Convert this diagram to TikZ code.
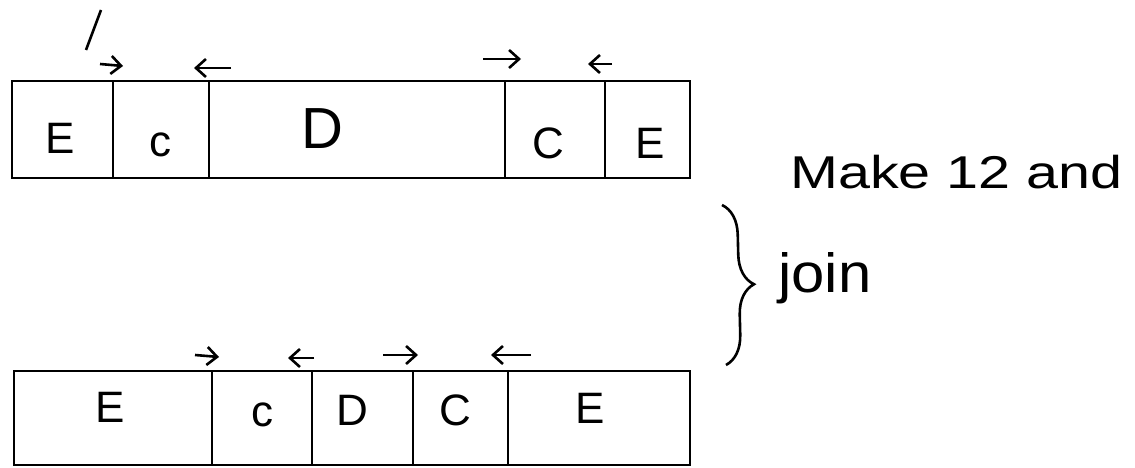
\documentclass[tikz,border=0pt]{standalone}
\usepackage{fontspec}
\setmainfont{Liberation Sans}
\usetikzlibrary{arrows.meta,decorations.pathreplacing}
\begin{document}
\begin{tikzpicture}[x=1pt,y=-1pt,
  cellbox/.style={draw, line width=2.8pt, inner sep=0pt, outer sep=0pt},
  lbl/.style={inner sep=0pt, font=\fontsize{44}{50}\selectfont},
  arrowmark/.style={line width=2.6pt, -{Straight Barb[length=10pt,width=18pt]}},
  hand/.style={inner sep=0pt, anchor=base west, font=\fontsize{46}{52}\selectfont}]
\useasboundingbox (0,0) rectangle (1135,468);
% top strip
\node[cellbox, minimum width=101pt, minimum height=97pt] (t1) at (62.5,129.5) {};
\node[cellbox, minimum width=96pt, minimum height=97pt] (t2) at (161,129.5) {};
\node[cellbox, minimum width=296pt, minimum height=97pt] (t3) at (357,129.5) {};
\node[cellbox, minimum width=100pt, minimum height=97pt] (t4) at (555,129.5) {};
\node[cellbox, minimum width=85pt, minimum height=97pt] (t5) at (647.5,129.5) {};
\node[lbl] (lt1) at (60,138) {E};
\node[lbl] (lt2) at (160,145) {c};
\node[lbl, font=\fontsize{58}{60}\selectfont] (lt3) at (322,129) {D};
\node[lbl] (lt4) at (548,143) {C};
\node[lbl] (lt5) at (650,143) {E};
% bottom strip
\node[cellbox, minimum width=198pt, minimum height=94pt] (b1) at (113,418) {};
\node[cellbox, minimum width=100pt, minimum height=94pt] (b2) at (262,418) {};
\node[cellbox, minimum width=101pt, minimum height=94pt] (b3) at (362.5,418) {};
\node[cellbox, minimum width=95pt, minimum height=94pt] (b4) at (460.5,418) {};
\node[cellbox, minimum width=182pt, minimum height=94pt] (b5) at (599,418) {};
\node[lbl] (lb1) at (110,407) {E};
\node[lbl] (lb2) at (262,415) {c};
\node[lbl] (lb3) at (352,410) {D};
\node[lbl] (lb4) at (455,410) {C};
\node[lbl] (lb5) at (590,408) {E};
% arrows above top strip
\draw[line width=2.6pt] (86,50) -- (101,10);
\draw[arrowmark] (100,64) -- (123,66);
\draw[arrowmark] (231,68) -- (194,68);
\draw[arrowmark] (483,59) -- (521,59);
\draw[arrowmark] (612,64) -- (588,64);
% arrows above bottom strip
\draw[arrowmark] (195,355) -- (219,357);
\draw[arrowmark] (314,358) -- (288,358);
\draw[arrowmark] (383,355) -- (418,355);
\draw[arrowmark] (531,355) -- (491,355);
% brace and text
\coordinate (bt) at (722,205);
\coordinate (bb) at (726,365);
\draw[line width=2.6pt, decorate, decoration={brace, amplitude=30pt}] (bt) -- (bb);
\node[hand] (make) at (790,188) {\scalebox{1.25}[1]{Make 12 and}};
\node[hand] (join) at (778,292) {\scalebox{1.3}[1.2]{join}};
\end{tikzpicture}
\end{document}
